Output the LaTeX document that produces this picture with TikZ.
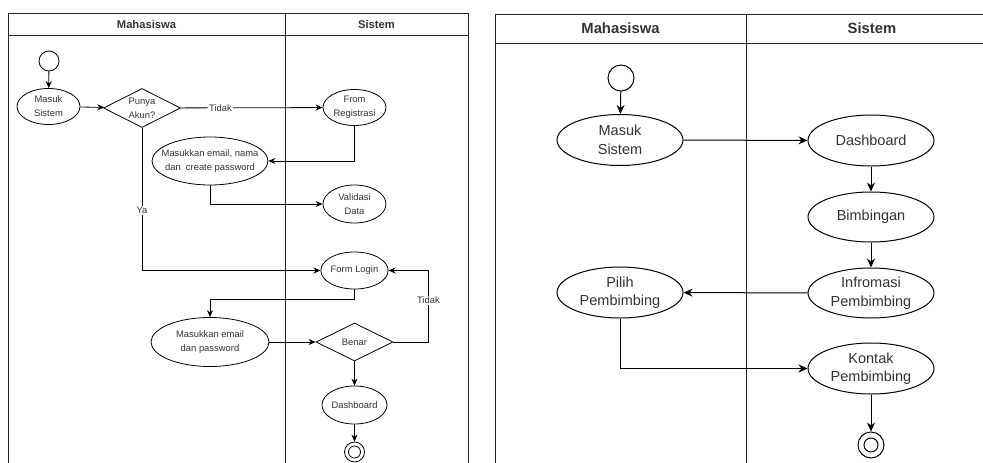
\documentclass[tikz,border=0pt]{standalone}
\usepackage{fontspec}
\setmainfont{Liberation Sans}
\usepackage{tikz}
\usetikzlibrary{arrows.meta,positioning,shapes.geometric}
\tikzset{
  lane/.style    = {draw=black!85, line width=0.9pt},
  head/.style    = {font=\fontsize{11.2}{13}\selectfont\bfseries, text=black!80},
  bighead/.style = {font=\fontsize{14.8}{17}\selectfont\bfseries, text=black!80},
  act/.style     = {ellipse, draw, line width=0.8pt, fill=white, inner sep=0pt,
                    minimum width=63pt, minimum height=36pt, align=center,
                    text=black!80, font=\fontsize{9.4}{14}\selectfont},
  bigact/.style  = {ellipse, draw, line width=1pt, fill=white, inner sep=0pt,
                    minimum width=126pt, minimum height=51pt, align=center,
                    text=black!80, font=\fontsize{14.5}{18.5}\selectfont},
  dec/.style     = {diamond, draw, line width=0.8pt, fill=white, inner sep=0pt, aspect=2,
                    minimum width=77pt, minimum height=39pt, align=center,
                    text=black!80, font=\fontsize{9.4}{14}\selectfont},
  startdot/.style= {circle, draw, line width=0.8pt, fill=white, inner sep=0pt, minimum size=#1},
  enddot/.style  = {circle, draw, line width=0.8pt, fill=white, inner sep=0pt, minimum size=20pt,
                    path picture={\draw[line width=0.8pt] (path picture bounding box.center) circle (6pt);}},
  bigend/.style  = {circle, draw, line width=1pt, fill=white, inner sep=0pt, minimum size=26pt,
                    path picture={\draw[line width=1pt] (path picture bounding box.center) circle (7pt);}},
  flow/.style    = {-{Stealth[length=7pt,width=6pt]}, line width=0.8pt},
  bigflow/.style = {-{Stealth[length=9pt,width=8pt]}, line width=1pt},
  lbl/.style     = {fill=white, inner sep=1pt, text=black!80, font=\fontsize{9.4}{11}\selectfont},
}

\begin{document}
\begin{tikzpicture}[x=1pt,y=-1pt]
  \useasboundingbox (0,0) rectangle (983,463);

  % left lanes
  \draw[lane] (8,463) -- (8,13) -- (468,13) -- (468,463);
  \draw[lane] (8,35) -- (468,35);
  \draw[lane] (285,13) -- (285,463);
  \node[head] (hmhs1) at (146.5,24) {Mahasiswa};
  \node[head] (hsis1) at (376.5,24) {Sistem};

  \node[startdot=20pt] (s1) at (49,61) {};
  \node[act] (ms1) at (48.5,106.5) {Masuk\\Sistem};
  \node[dec] (akun) at (142,108) {Punya\\Akun?};
  \node[act] (reg) at (354.5,107.5) {From\\Registrasi};
  \node[act, inner xsep=-8pt, minimum width=116pt, minimum height=48pt] (isi) at (210,161)
    {Masukkan email, nama\\dan\ \ create password};
  \node[act, minimum height=38pt] (val) at (354.5,204) {Validasi\\Data};
  \node[act, minimum height=37pt] (login) at (354.5,270.5) {Form Login};
  \node[act, minimum width=118pt, minimum height=49pt] (inp) at (210,342)
    {Masukkan email\\dan password};
  \node[dec, minimum height=38pt] (benar) at (354.5,342) {Benar};
  \node[act, minimum height=38pt] (dash1) at (354.5,405) {Dashboard};
  \node[enddot] (end1) at (354.5,452) {};

  \foreach \a/\b in {s1/ms1,ms1/akun,inp/benar,benar/dash1,dash1/end1}{
    \draw[flow] (\a) -- (\b);}
  \draw[flow] (akun) -- node[lbl, pos=0.28] {Tidak} (reg);
  \draw[flow] (reg.south) |- (isi.east);
  \draw[flow] (isi.south) |- (val.west);
  \draw[flow] (akun.south) |- node[lbl, pos=0.29] {Ya} (login.west);
  \draw[flow] (login.south) -- ++(0,9.5) -| (inp.north);
  \draw[flow] (benar.east) -- ++(35,0) |- node[lbl, pos=0.29] {Tidak} (login.east);

  % right lanes
  \draw[lane, line width=1pt] (495,463) -- (495,14) -- (983,14);
  \draw[lane, line width=1pt] (495,43) -- (983,43);
  \draw[lane, line width=1pt] (746,14) -- (746,463);
  \node[bighead] (hmhs2) at (620.5,28) {Mahasiswa};
  \node[bighead] (hsis2) at (872,28) {Sistem};

  \node[startdot=26pt, line width=1pt] (s2) at (621,78) {};
  \node[bigact] (ms2) at (620,140) {Masuk\\Sistem};
  \node[bigact] (dash2) at (871,140.5) {Dashboard};
  \node[bigact, minimum height=50pt] (bimb) at (871,217) {Bimbingan};
  \node[bigact, minimum height=50pt] (info) at (871,293) {Infromasi\\Pembimbing};
  \node[bigact] (pilih) at (620,292.5) {Pilih\\Pembimbing};
  \node[bigact] (kontak) at (871,368.5) {Kontak\\Pembimbing};
  \node[bigend] (end2) at (871,445) {};

  \foreach \a/\b in {s2/ms2,ms2/dash2,dash2/bimb,bimb/info,info/pilih,kontak/end2}{
    \draw[bigflow] (\a) -- (\b);}
  \draw[bigflow] (pilih.south) |- (kontak.west);
\end{tikzpicture}
\end{document}
